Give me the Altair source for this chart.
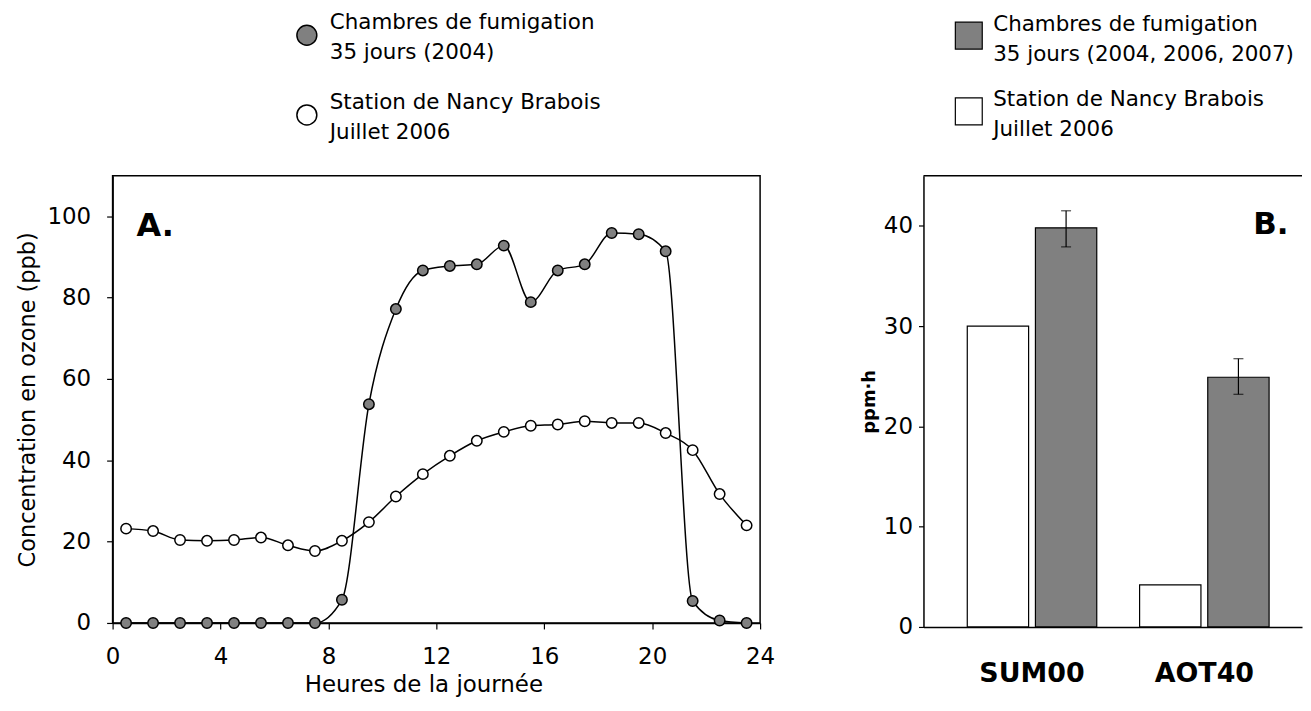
import altair as alt
import pandas as pd

# ---------------- Panel A data ----------------
hours = [0.5, 1.5, 2.5, 3.5, 4.5, 5.5, 6.5, 7.5, 8.5, 9.5, 10.5, 11.5,
         12.5, 13.5, 14.5, 15.5, 16.5, 17.5, 18.5, 19.5, 20.5, 21.5, 22.5, 23.5]
fumigation = [0, 0, 0, 0, 0, 0, 0, 0, 5.7, 53.8, 77.2, 86.7,
              87.8, 88.2, 92.8, 78.9, 86.7, 88.2, 95.9, 95.6, 91.4, 5.4, 0.6, 0]
station = [23.2, 22.6, 20.4, 20.2, 20.4, 21.0, 19.1, 17.7, 20.2, 24.8, 31.1, 36.6,
           41.1, 44.8, 47.0, 48.5, 48.8, 49.6, 49.2, 49.2, 46.7, 42.5, 31.7, 24.0]
series_a = ["Chambres de fumigation|35 jours (2004)",
            "Station de Nancy Brabois|Juillet 2006"]
x_ticks_a = [0, 4, 8, 12, 16, 20, 24]
y_ticks_a = [0, 20, 40, 60, 80, 100]

# ---------------- Panel B data ----------------
categories = ["SUM00", "AOT40"]
station_b = [30.0, 4.2]
fumigation_b = [39.8, 24.9]
fumigation_b_low = [37.9, 23.2]
fumigation_b_high = [41.5, 26.75]
series_b = ["Chambres de fumigation|35 jours (2004, 2006, 2007)",
            "Station de Nancy Brabois|Juillet 2006"]
y_ticks_b = [0, 10, 20, 30, 40]

FONT = "DejaVu Sans"
GRAY = "#808080"

# legend symbols, shifted down so they sit beside the middle of two-line labels
CIRCLE_LOW = "M -1,1.2 A 1,1 0 1,1 1,1.2 A 1,1 0 1,1 -1,1.2 Z"
SQUARE_LOW = "M -1,-0.19 L 1,-0.19 L 1,1.81 L -1,1.81 Z"

df_a = pd.DataFrame({
    "heure": hours + hours,
    "ozone": fumigation + station,
    "serie": [series_a[0]] * len(hours) + [series_a[1]] * len(hours),
})

df_b = pd.DataFrame({
    "categorie": categories + categories,
    "serie": [series_b[1]] * 2 + [series_b[0]] * 2,
    "valeur": station_b + fumigation_b,
})
df_err = pd.DataFrame({
    "categorie": categories,
    "serie": [series_b[0]] * 2,
    "bas": fumigation_b_low,
    "haut": fumigation_b_high,
})

# ---------------- Panel A ----------------
W_A, H_A = 650, 449
xa = alt.X("heure:Q", scale=alt.Scale(domain=[0, 24], nice=False),
           axis=alt.Axis(values=x_ticks_a, title="Heures de la journée", grid=False,
                         tickSize=6, labelPadding=35, labelBaseline="alphabetic",
                         labelFlush=False, labelFontSize=23,
                         titleFontSize=23, titleFontWeight="normal",
                         titleX=312, titleY=69, titleBaseline="alphabetic",
                         domainColor="black", tickColor="black", labelColor="black",
                         titleColor="black", domainWidth=1.5, tickWidth=1.2))
ya = alt.Y("ozone:Q", scale=alt.Scale(domain=[0, 110], nice=False),
           axis=alt.Axis(values=y_ticks_a, title="Concentration en ozone (ppb)", grid=False,
                         tickSize=6, labelPadding=16, labelFontSize=23,
                         titleFontSize=22.5, titleFontWeight="normal",
                         titleX=-85, titleBaseline="middle",
                         domainColor="black", tickColor="black", labelColor="black",
                         titleColor="black", domainWidth=1.5, tickWidth=1.2))

base_a = alt.Chart(df_a)
lines_a = base_a.mark_line(color="black", strokeWidth=1.5, interpolate="monotone").encode(
    x=xa, y=ya, detail="serie:N")
points_a = base_a.mark_circle(size=110, stroke="black", strokeWidth=1.5, opacity=1).encode(
    x=xa, y=ya,
    fill=alt.Fill("serie:N", scale=alt.Scale(domain=series_a, range=[GRAY, "#ffffff"]),
                  legend=alt.Legend(title=None, orient="none", legendX=184, legendY=-164,
                                    symbolType=CIRCLE_LOW, symbolSize=400,
                                    symbolStrokeColor="black", symbolStrokeWidth=1.5,
                                    labelFontSize=21.5, labelFont=FONT, labelColor="black",
                                    labelOffset=12, labelLimit=800,
                                    labelExpr="split(datum.label, '|')",
                                    rowPadding=28, padding=0)))
label_a = alt.Chart(pd.DataFrame({"t": ["A."]})).mark_text(
    fontSize=32, fontWeight="bold", align="left", baseline="alphabetic", color="black"
).encode(text="t:N", x=alt.value(24), y=alt.value(61))

panel_a = alt.layer(lines_a, points_a, label_a).properties(
    width=W_A, height=H_A,
    view=alt.ViewBackground(stroke="black", strokeWidth=1.5))

# ---------------- Panel B ----------------
W_B, H_B = 380, 453
xscale_b = alt.Scale(domain=categories, paddingInner=0.2486, paddingOuter=0.2226,
                     align=0.571)
xb = alt.X("categorie:N", sort=categories, scale=xscale_b,
           axis=alt.Axis(title=None, ticks=False, tickSize=0, labelAngle=0,
                         labelFontSize=27, labelFontWeight="bold", labelPadding=55,
                         labelBaseline="alphabetic",
                         labelColor="black", domainColor="black", domainWidth=1.5))
xb_plain = alt.X("categorie:N", sort=categories, scale=xscale_b)
xob = alt.XOffset("serie:N", sort=[series_b[1], series_b[0]],
                  scale=alt.Scale(domain=[series_b[1], series_b[0]],
                                  paddingInner=0.1, paddingOuter=0))
yb_axis = alt.Axis(values=y_ticks_b, title="ppm·h", grid=False, tickSize=5, labelPadding=6,
                   labelFontSize=23, titleFontSize=18, titleFontWeight="bold",
                   titleX=-54, titleBaseline="middle",
                   domainColor="black", tickColor="black", labelColor="black",
                   titleColor="black", domainWidth=1.5, tickWidth=1.2)
yscale_b = alt.Scale(domain=[0, 45], nice=False)

bars_b = alt.Chart(df_b).mark_bar(stroke="black", strokeWidth=1.2).encode(
    x=xb, xOffset=xob,
    y=alt.Y("valeur:Q", scale=yscale_b, axis=yb_axis),
    fill=alt.Fill("serie:N", scale=alt.Scale(domain=series_b, range=[GRAY, "#ffffff"]),
                  legend=alt.Legend(title=None, orient="none", legendX=31, legendY=-166,
                                    symbolType=SQUARE_LOW, symbolSize=729,
                                    symbolStrokeColor="black", symbolStrokeWidth=1.2,
                                    labelFontSize=21.5, labelFont=FONT, labelColor="black",
                                    labelOffset=10, labelLimit=800,
                                    labelExpr="split(datum.label, '|')",
                                    rowPadding=21, padding=0)))
err_rule = alt.Chart(df_err).mark_rule(color="black", strokeWidth=1.2).encode(
    x=xb_plain, xOffset=xob,
    y=alt.Y("bas:Q", scale=yscale_b), y2="haut:Q")
err_low = alt.Chart(df_err).mark_tick(color="black", size=10, thickness=1.2).encode(
    x=xb_plain, xOffset=xob, y=alt.Y("bas:Q", scale=yscale_b))
err_high = alt.Chart(df_err).mark_tick(color="black", size=10, thickness=1.2).encode(
    x=xb_plain, xOffset=xob, y=alt.Y("haut:Q", scale=yscale_b))
top_line = alt.Chart(pd.DataFrame({"a": [0]})).mark_rule(color="black", strokeWidth=1.5).encode(
    x=alt.value(0), x2=alt.value(W_B), y=alt.value(0))
label_b = alt.Chart(pd.DataFrame({"t": ["B."]})).mark_text(
    fontSize=31, fontWeight="bold", align="left", baseline="alphabetic", color="black"
).encode(text="t:N", x=alt.value(331), y=alt.value(59))

panel_b = alt.layer(bars_b, err_rule, err_low, err_high, top_line, label_b).properties(
    width=W_B, height=H_B,
    view=alt.ViewBackground(stroke=None))

chart = alt.hconcat(panel_a, panel_b, spacing=164, bounds="flush",
                    padding={"left": 8, "top": 1, "right": 0, "bottom": 0}
                    ).resolve_scale(fill="independent", x="independent", y="independent"
                    ).configure(font=FONT, style={"guide-label": {"lineHeight": 30}})

chart.save("out.html", embed_options={"renderer": "svg", "actions": False})
